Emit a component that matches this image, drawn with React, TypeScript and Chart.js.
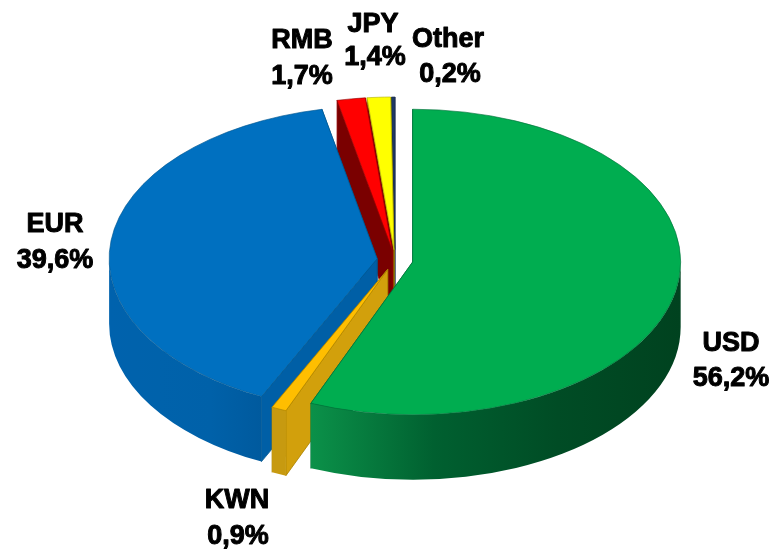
import React, { useEffect, useRef } from "react";
import { Chart, registerables } from "chart.js";

Chart.register(...registerables);

const categories = ["USD", "KWN", "EUR", "RMB", "JPY", "Other"];
const shares = [56.2, 0.9, 39.6, 1.7, 1.4, 0.2];
const topColors = ["#00AD50", "#FFBE00", "#0070C0", "#FF0000", "#FFFF00", "#1F3864"];
const edgeColors = ["#00703A", "#A88000", "#00578F", "#900000", "#B0B000", "#14264A"];
const faceColors = ["#00602E", "#D2A00C", "#005FA6", "#7A0000", "#7A0000", "#5A0000"];
const wallStops: string[][] = [
  ["#0B9149", "#006030", "#004C25", "#00421F"],
  ["#C79A10", "#C79A10", "#C79A10", "#C79A10"],
  ["#0062AD", "#0062AB", "#0061A9", "#005A9E"],
  ["#7A0000", "#7A0000", "#7A0000", "#7A0000"],
  ["#7A0000", "#7A0000", "#7A0000", "#7A0000"],
  ["#5A0000", "#5A0000", "#5A0000", "#5A0000"],
];
const labelAnchors = [
  [731, 351, 731, 386],
  [237, 508, 238, 544],
  [55, 232, 55, 268],
  [302, 48, 302, 84],
  [373, 32, 375, 65],
  [448, 47, 450, 82],
];

const FLATTEN = 0.57;
const DEPTH = 65;
const EXPLODE = 18;
const RADIUS = 268;

function pct(v: number) {
  return v.toFixed(1).replace(".", ",") + "%";
}

const pie3d = {
  id: "pie3d",
  beforeDatasetsDraw(chart: any) {
    const ctx: CanvasRenderingContext2D = chart.ctx;
    const arcs: any[] = chart.getDatasetMeta(0).data;
    for (let i = arcs.length - 1; i >= 0; i--) {
      const arc = arcs[i];
      const mid = (arc.startAngle + arc.endAngle) / 2;
      const cx = arc.x + Math.cos(mid) * EXPLODE;
      const cy = arc.y + Math.sin(mid) * EXPLODE * FLATTEN;
      const R = arc.outerRadius;
      const r = R * FLATTEN;
      const edge = (a: number) => [cx + Math.cos(a) * R, cy + Math.sin(a) * r];

      // radial cut faces
      ctx.fillStyle = faceColors[i];
      ctx.strokeStyle = edgeColors[i];
      ctx.lineWidth = 0.8;
      for (const a of [arc.endAngle, arc.startAngle]) {
        const [ex, ey] = edge(a);
        ctx.beginPath();
        ctx.moveTo(cx, cy);
        ctx.lineTo(ex, ey);
        ctx.lineTo(ex, ey + DEPTH);
        ctx.lineTo(cx, cy + DEPTH);
        ctx.closePath();
        ctx.fill();
        ctx.stroke();
      }

      // outer rim wall, only where it faces the viewer
      const ranges: number[][] = [];
      for (const k of [0, 1]) {
        const lo = Math.max(arc.startAngle, k * 2 * Math.PI);
        const hi = Math.min(arc.endAngle, Math.PI + k * 2 * Math.PI);
        if (hi > lo) ranges.push([lo, hi]);
      }
      for (const [a0, a1] of ranges) {
        const g = ctx.createLinearGradient(cx + Math.cos(a1) * R, 0, cx + Math.cos(a0) * R, 0);
        wallStops[i].forEach((c, s) => g.addColorStop(s / 3, c));
        ctx.fillStyle = g;
        ctx.beginPath();
        ctx.ellipse(cx, cy, R, r, 0, a0, a1);
        ctx.ellipse(cx, cy + DEPTH, R, r, 0, a1, a0, true);
        ctx.closePath();
        ctx.fill();
      }

      // top face, drawn by the library's own arc element
      ctx.save();
      ctx.translate(cx, cy);
      ctx.scale(1, FLATTEN);
      ctx.translate(-arc.x, -arc.y);
      arc.draw(ctx);
      ctx.restore();
    }
    return false;
  },
  afterDraw(chart: any) {
    const ctx: CanvasRenderingContext2D = chart.ctx;
    ctx.save();
    ctx.fillStyle = "#000";
    ctx.strokeStyle = "#000";
    ctx.lineWidth = 1;
    ctx.lineJoin = "round";
    ctx.textAlign = "center";
    ctx.textBaseline = "alphabetic";
    ctx.font = 'bold 27px "Liberation Sans", Arial, sans-serif';
    categories.forEach((name, i) => {
      const [x1, y1, x2, y2] = labelAnchors[i];
      const value = pct(shares[i]);
      ctx.strokeText(name, x1, y1);
      ctx.fillText(name, x1, y1);
      ctx.strokeText(value, x2, y2);
      ctx.fillText(value, x2, y2);
    });
    ctx.restore();
  },
};

export default function App() {
  const ref = useRef<HTMLCanvasElement>(null);
  useEffect(() => {
    const chart = new Chart(ref.current as HTMLCanvasElement, {
      type: "pie",
      data: {
        labels: categories,
        datasets: [
          {
            data: shares,
            backgroundColor: topColors,
            borderColor: edgeColors,
            borderWidth: 0.8,
          },
        ],
      },
      options: {
        animation: false,
        responsive: false,
        devicePixelRatio: 1,
        radius: RADIUS,
        rotation: 0,
        layout: { padding: { left: 7, bottom: 32 } },
        plugins: { legend: { display: false }, tooltip: { enabled: false } },
      } as any,
      plugins: [pie3d as any],
    });
    return () => chart.destroy();
  }, []);
  return (
    <div style={{ position: "fixed", left: 0, top: 0, width: 783, height: 552, background: "#fff" }}>
      <canvas ref={ref} width={783} height={552} style={{ display: "block" }} />
    </div>
  );
}
